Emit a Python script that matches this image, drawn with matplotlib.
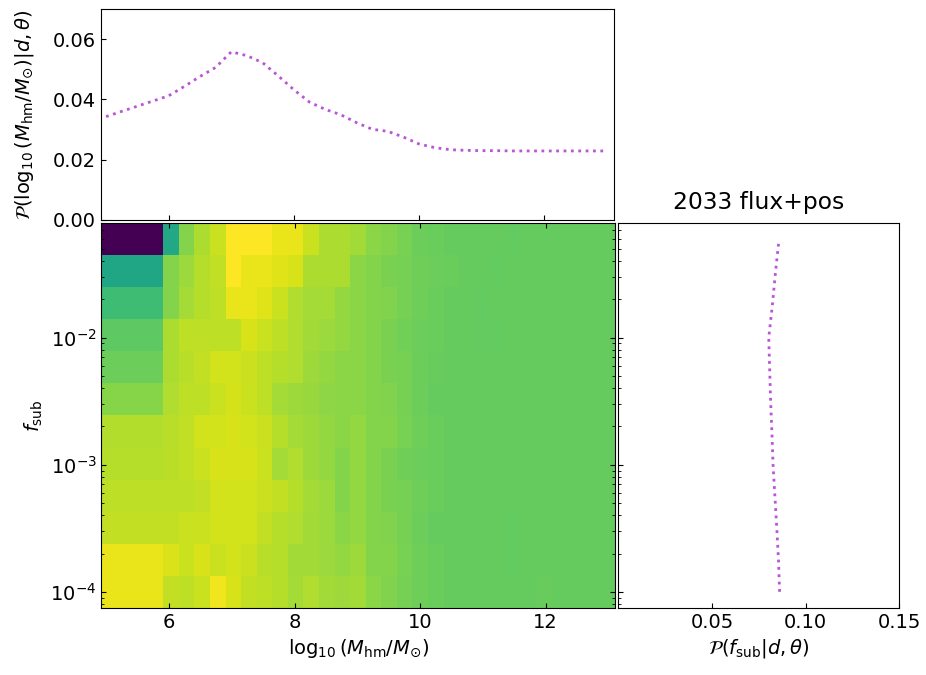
import numpy as np
import matplotlib
matplotlib.use("Agg")
from matplotlib import pyplot as plt

plt.rcParams['font.size'] = 14

#
# grid of half-mode masses (column centres) and f_sub (row centres)
# ----------------------------------------------------------------
#
log_mhm = [5.0, 6.0, 6.25, 6.5, 6.75, 7.0, 7.25, 7.5, 7.75, 8.0,
           8.25, 8.5, 8.75, 9.0, 9.25, 9.5, 9.75, 10.0, 10.25, 10.5,
           10.75, 11.0, 11.25, 11.5, 11.75, 12.0, 12.25, 12.5, 12.75, 13.0]
log_fsub = [-4.0, -3.75, -3.5, -3.25, -3.0, -2.75, -2.5, -2.25,
            -2.0, -1.75, -1.5, -1.25]

# cell edges of the mesh as they appear in the figure
mhm_edges = np.concatenate([[4.92], np.linspace(5.905, 13.105, 30)])
fsub_edges = 10**np.linspace(-4.125, -1.1, 13)

#
# marginal posteriors
# -------------------
#
p_mhm = [0.0343, 0.0412, 0.0443, 0.0476, 0.0506, 0.0558, 0.0545, 0.0522,
         0.0478, 0.0432, 0.0391, 0.0367, 0.0349, 0.0323, 0.0301, 0.0294,
         0.0275, 0.0252, 0.0240, 0.0233, 0.0231, 0.0230, 0.0230, 0.0229,
         0.0229, 0.0229, 0.0229, 0.0229, 0.0229, 0.0229]
p_fsub = [0.0861, 0.0855, 0.0846, 0.0836, 0.0826, 0.0820, 0.0813, 0.0808,
          0.0803, 0.0822, 0.0838, 0.0856]

#
# joint posterior (normalised), rows from lowest to highest f_sub
# ---------------------------------------------------------------
#
post = [
    [.965, .91, .90, .92, .98, .94, .91, .90, .89, .865, .88, .86, .853, .86, .825,
     .81, .79, .78, .77, .764, .764, .764, .764, .764, .764, .768, .764, .764, .764, .764],
    [.965, .945, .92, .94, .92, .93, .92, .893, .89, .86, .86, .85, .838, .853, .815,
     .815, .795, .78, .77, .764, .764, .764, .764, .759, .764, .764, .764, .764, .764, .764],
    [.91, .91, .92, .92, .93, .93, .93, .91, .89, .88, .86, .85, .825, .838, .815,
     .81, .79, .776, .764, .764, .764, .764, .764, .761, .764, .764, .764, .764, .764, .764],
    [.90, .90, .90, .91, .93, .93, .93, .92, .91, .89, .865, .85, .815, .838, .815,
     .80, .79, .78, .77, .764, .764, .764, .764, .764, .764, .764, .764, .764, .764, .764],
    [.89, .897, .905, .92, .94, .94, .94, .92, .865, .88, .853, .838, .815, .838, .815,
     .80, .78, .776, .77, .764, .764, .764, .764, .764, .764, .764, .764, .764, .764, .764],
    [.885, .893, .905, .93, .93, .94, .93, .92, .89, .865, .853, .838, .825, .838, .815,
     .815, .795, .78, .77, .764, .764, .764, .764, .764, .764, .764, .764, .764, .764, .764],
    [.82, .88, .90, .90, .92, .935, .92, .90, .865, .853, .845, .83, .825, .825, .815,
     .81, .79, .776, .764, .764, .764, .764, .764, .764, .764, .764, .764, .764, .764, .764],
    [.776, .875, .893, .91, .93, .93, .92, .90, .89, .88, .853, .838, .825, .825, .815,
     .80, .79, .776, .768, .764, .764, .764, .764, .764, .764, .764, .764, .764, .764, .764],
    [.75, .875, .90, .90, .90, .90, .94, .92, .90, .88, .86, .85, .838, .825, .815,
     .80, .785, .776, .77, .764, .762, .759, .761, .764, .764, .764, .764, .764, .764, .764],
    [.69, .815, .865, .89, .90, .965, .965, .95, .92, .88, .865, .865, .838, .825, .815,
     .81, .79, .78, .77, .764, .762, .759, .762, .764, .764, .764, .764, .764, .764, .764],
    [.59, .815, .85, .89, .905, 1.0, .965, .965, .95, .94, .875, .875, .875, .825, .815,
     .80, .79, .78, .776, .77, .764, .762, .76, .762, .764, .764, .764, .764, .764, .764],
    [0.0, .60, .815, .875, .92, 1.0, 1.0, 1.0, .965, .965, .92, .875, .875, .86, .825,
     .815, .795, .776, .77, .762, .764, .764, .762, .76, .764, .764, .764, .764, .764, .764],
]

line_col = 'mediumorchid'

#
# set up the three panels
# -----------------------
#
fig = plt.figure(figsize=(9.26, 6.75), dpi=100)
ax_main = fig.add_axes([0.1096, 0.0997, 0.5545, 0.5695])
ax_top = fig.add_axes([0.1091, 0.6741, 0.5535, 0.3126], sharex=ax_main)
ax_right = fig.add_axes([0.6677, 0.0997, 0.3035, 0.5695], sharey=ax_main)

#
# joint posterior
# ---------------
#
ax_main.pcolormesh(mhm_edges, fsub_edges, np.array(post), cmap='viridis',
                   vmin=0, vmax=1)
ax_main.set_yscale('log')
ax_main.set_xlim(4.92, 13.105)
ax_main.set_ylim(fsub_edges[0], fsub_edges[-1])
ax_main.set_xticks([6, 8, 10, 12])
ax_main.set_xlabel(r'$\log_{10}(M_{\rm hm}/M_{\odot})$')
ax_main.set_ylabel(r'$f_{\rm sub}$')
ax_main.tick_params(which='both', direction='in', top=True, right=True)

#
# marginal on the half-mode mass
# ------------------------------
#
ax_top.plot(log_mhm, p_mhm, ls=':', lw=2, color=line_col)
ax_top.set_ylim(0, 0.07)
ax_top.set_yticks([0.0, 0.02, 0.04, 0.06])
ax_top.set_ylabel(r'$\mathcal{P}(\log_{10}(M_{\rm hm}/M_{\odot})|d,\theta)$',
                  labelpad=12)
ax_top.tick_params(which='both', direction='in', labelbottom=False)

#
# marginal on f_sub
# -----------------
#
ax_right.plot(p_fsub, 10**np.array(log_fsub), ls=':', lw=2, color=line_col)
ax_right.set_xlim(0, 0.15)
ax_right.set_xticks([0.05, 0.10, 0.15])
ax_right.set_xlabel(r'$\mathcal{P}(f_{\rm sub}|d,\theta)$')
ax_right.set_title('2033 flux+pos', pad=10)
ax_right.tick_params(which='both', direction='in', labelleft=False)

fig.savefig('out.png', dpi=100)
